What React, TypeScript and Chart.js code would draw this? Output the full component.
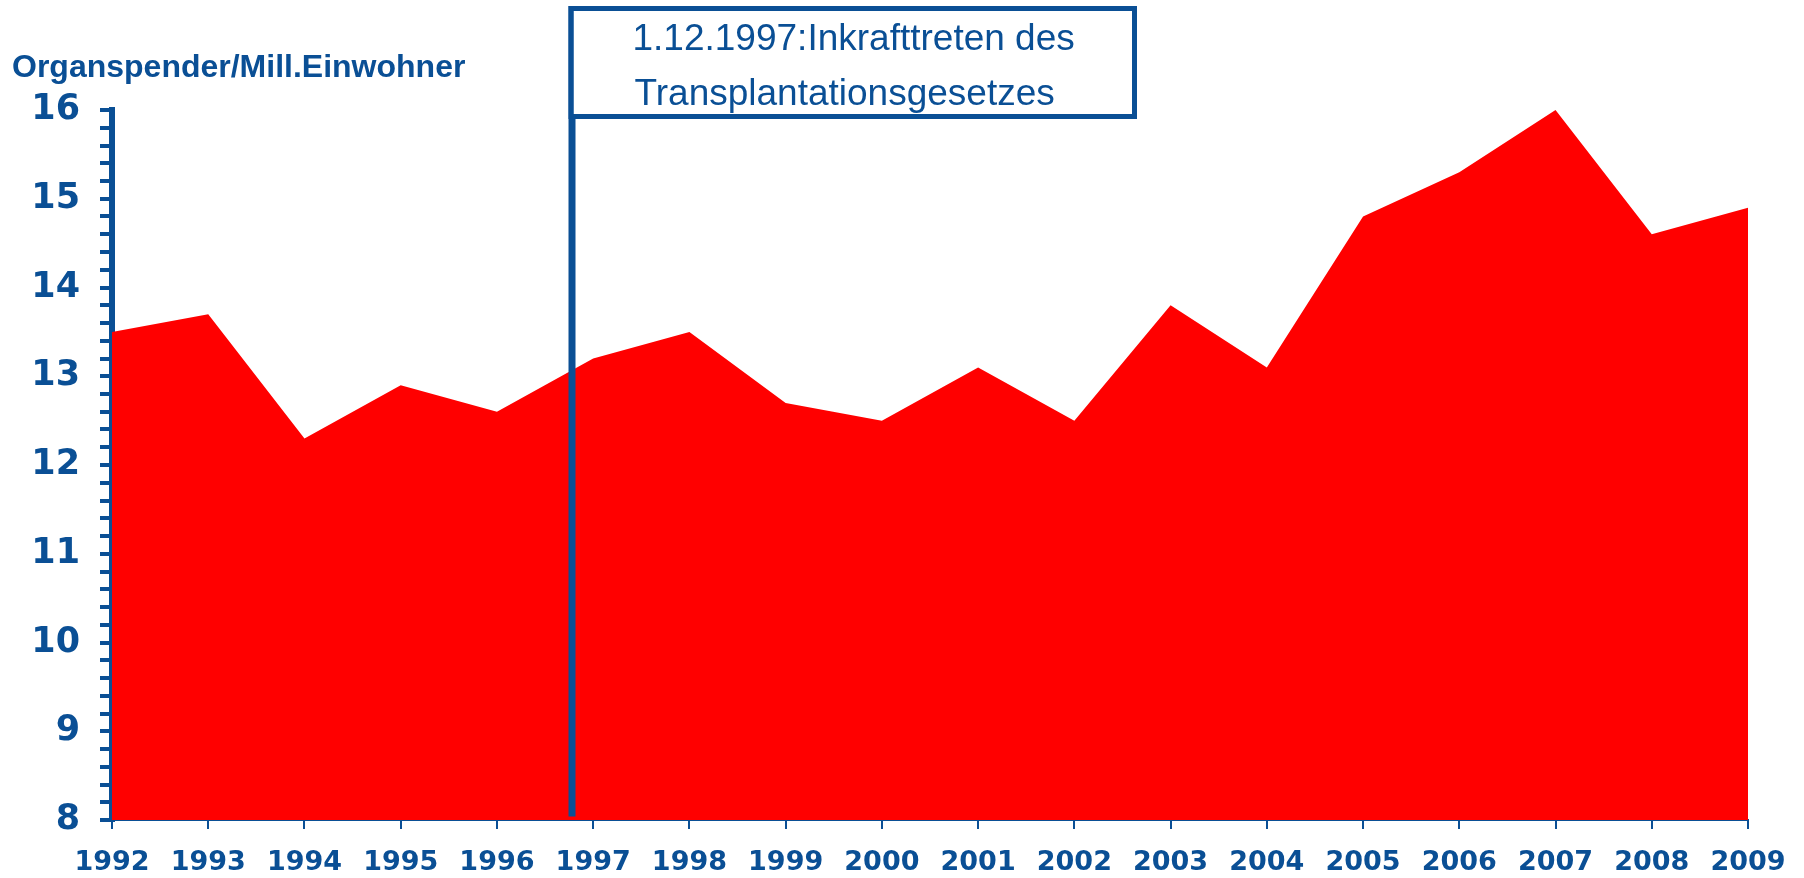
import React, { useEffect, useRef } from "react";
import { Chart, registerables } from "chart.js";

Chart.register(...registerables);

// ---- data ----
const years = [
  "1992", "1993", "1994", "1995", "1996", "1997", "1998", "1999", "2000",
  "2001", "2002", "2003", "2004", "2005", "2006", "2007", "2008", "2009",
];
const donorsPerMillion = [
  13.5, 13.7, 12.3, 12.9, 12.6, 13.2, 13.5, 12.7, 12.5,
  13.1, 12.5, 13.8, 13.1, 14.8, 15.3, 16.0, 14.6, 14.9,
];
const yMin = 8;
const yMax = 16;
const yMinorStep = 0.2;
const yAxisTitle = "Organspender/Mill.Einwohner";
const annotationLines = ["1.12.1997:Inkrafttreten des", "Transplantationsgesetzes"];
const annotationIndex = 4.78; // position on the category axis

const BLUE = "#0a4f95";
const RED = "#ff0000";

const overlayPlugin = {
  id: "overlay",
  afterDraw(chart: any) {
    const ctx = chart.ctx;
    const xs = chart.scales.x;
    const ys = chart.scales.y;
    ctx.save();
    // axis title
    ctx.fillStyle = BLUE;
    ctx.font = 'bold 32px "Liberation Sans", Arial, sans-serif';
    ctx.textAlign = "left";
    ctx.textBaseline = "middle";
    ctx.fillText(yAxisTitle, 12, 68);

    // annotation line
    const lx = xs.getPixelForValue(annotationIndex);
    ctx.strokeStyle = BLUE;
    ctx.lineWidth = 7;
    ctx.beginPath();
    ctx.moveTo(lx, ys.getPixelForValue(yMin + 0.04));
    ctx.lineTo(lx, 6);
    ctx.stroke();

    // annotation box
    const boxLeft = lx - 3.5;
    const boxRightOuter = 1137;
    ctx.fillStyle = "#ffffff";
    ctx.fillRect(boxLeft + 5, 11, boxRightOuter - boxLeft - 10, 103);
    ctx.lineWidth = 5;
    ctx.strokeRect(boxLeft + 2.5, 8.5, boxRightOuter - 2.5 - (boxLeft + 2.5), 108);
    ctx.fillStyle = BLUE;
    ctx.font = '37px "Liberation Sans", Arial, sans-serif';
    ctx.textBaseline = "alphabetic";
    ctx.fillText(annotationLines[0], boxLeft + 64, 50);
    ctx.fillText(annotationLines[1], boxLeft + 66, 105);
    ctx.restore();
  },
};

export default function App() {
  const canvasRef = useRef<HTMLCanvasElement | null>(null);

  useEffect(() => {
    document.body.style.margin = "0";
    const canvas = canvasRef.current;
    if (!canvas) return;
    const chart = new Chart(canvas, {
      type: "line",
      data: {
        labels: years,
        datasets: [
          {
            data: donorsPerMillion,
            backgroundColor: RED,
            borderColor: RED,
            borderWidth: 0,
            pointRadius: 0,
            tension: 0,
            fill: "start",
          },
        ],
      },
      options: {
        animation: false,
        responsive: false,
        devicePixelRatio: 1,
        layout: { padding: { top: 110, right: 56, left: 0, bottom: 0 } },
        plugins: {
          legend: { display: false },
          tooltip: { enabled: false },
          title: { display: false },
        },
        scales: {
          x: {
            type: "category",
            offset: false,
            grid: {
              display: true,
              drawOnChartArea: false,
              drawTicks: true,
              tickLength: 9,
              color: BLUE,
              lineWidth: 2,
            },
            border: { display: true, color: BLUE, width: 2 },
            ticks: {
              color: BLUE,
              font: { family: '"DejaVu Sans", sans-serif', weight: "bold", size: 27 },
              padding: 18,
              maxRotation: 0,
              autoSkip: false,
            },
            afterFit: (s: any) => {
              s.height = 58;
            },
          },
          y: {
            type: "linear",
            min: yMin,
            max: yMax,
            grid: {
              display: true,
              drawOnChartArea: false,
              drawTicks: true,
              tickLength: 12,
              color: BLUE,
              lineWidth: 4,
            },
            border: { display: true, color: BLUE, width: 6 },
            ticks: {
              stepSize: yMinorStep,
              autoSkip: false,
              maxTicksLimit: 1000,
              color: BLUE,
              font: { family: '"DejaVu Sans", sans-serif', weight: "bold", size: 35 },
              padding: 20,
              callback: (v: any) => {
                const n = Number(v);
                return Math.abs(n - Math.round(n)) < 1e-6 ? String(Math.round(n)) : "";
              },
            },
            afterFit: (s: any) => {
              s.width = 112;
            },
          },
        },
      },
      plugins: [overlayPlugin],
    });
    return () => chart.destroy();
  }, []);

  return (
    <div style={{ width: 1804, height: 878 }}>
      <canvas ref={canvasRef} width={1804} height={878} style={{ display: "block" }} />
    </div>
  );
}
